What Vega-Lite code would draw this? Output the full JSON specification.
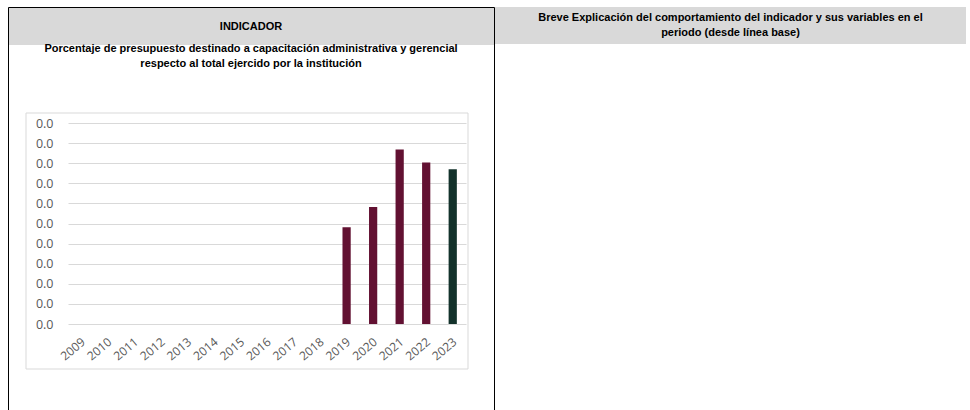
{
  "$schema": "https://vega.github.io/schema/vega-lite/v6.json",
  "background": "white",
  "padding": {"left": 7, "top": 6, "right": 0, "bottom": 0},
  "spacing": 0,
  "config": {"view": {"stroke": null}, "font": "Liberation Sans"},
  "hconcat": [
    {
      "width": 486,
      "height": 405,
      "view": {
        "stroke": "#000000",
        "fill": {
          "gradient": "linear",
          "x1": 0, "y1": 0, "x2": 0, "y2": 1,
          "stops": [
            {"offset": 0, "color": "#d9d9d9"},
            {"offset": 0.0914, "color": "#d9d9d9"},
            {"offset": 0.0914, "color": "#ffffff"},
            {"offset": 1, "color": "#ffffff"}
          ]
        }
      },
      "title": {
        "text": "INDICADOR",
        "subtitle": ["Porcentaje de presupuesto destinado a capacitación administrativa y gerencial", "respecto al total ejercido por la institución"],
        "font": "Liberation Sans",
        "fontSize": 11,
        "fontWeight": "bold",
        "color": "#000000",
        "subtitleFont": "Liberation Sans",
        "subtitleFontSize": 11,
        "subtitleFontWeight": "bold",
        "subtitleColor": "#000000",
        "subtitleLineHeight": 15,
        "subtitlePadding": 11,
        "anchor": "middle",
        "frame": "group",
        "offset": -62
      },
      "resolve": {"scale": {"x": "independent", "y": "independent"}},
      "layer": [
        {
          "data": {
            "values": [
              {"anio": 2009, "valor": 0, "tipo": "Histórico"},
              {"anio": 2010, "valor": 0, "tipo": "Histórico"},
              {"anio": 2011, "valor": 0, "tipo": "Histórico"},
              {"anio": 2012, "valor": 0, "tipo": "Histórico"},
              {"anio": 2013, "valor": 0, "tipo": "Histórico"},
              {"anio": 2014, "valor": 0, "tipo": "Histórico"},
              {"anio": 2015, "valor": 0, "tipo": "Histórico"},
              {"anio": 2016, "valor": 0, "tipo": "Histórico"},
              {"anio": 2017, "valor": 0, "tipo": "Histórico"},
              {"anio": 2018, "valor": 0, "tipo": "Histórico"},
              {"anio": 2019, "valor": 0.00481, "tipo": "Histórico"},
              {"anio": 2020, "valor": 0.00582, "tipo": "Histórico"},
              {"anio": 2021, "valor": 0.00868, "tipo": "Histórico"},
              {"anio": 2022, "valor": 0.00803, "tipo": "Histórico"},
              {"anio": 2023, "valor": 0.0077, "tipo": "Actual"}
            ]
          },
          "mark": {"type": "bar"},
          "encoding": {
            "x": {
              "field": "anio",
              "type": "ordinal",
              "scale": {"range": [60, 458], "paddingInner": 0.69, "paddingOuter": 0.345},
              "axis": {
                "title": null,
                "labelAngle": -40,
                "labelOffset": -1,
                "domain": false,
                "ticks": false,
                "tickSize": 0,
                "grid": false,
                "offset": -79,
                "labelPadding": 3,
                "labelFont": "Open Sans",
                "labelFontSize": 12,
                "labelColor": "#595959"
              }
            },
            "y": {
              "field": "valor",
              "type": "quantitative",
              "scale": {"domain": [0, 0.01], "range": [317, 116], "nice": false, "zero": true},
              "axis": {
                "title": null,
                "values": [0, 0.001, 0.002, 0.003, 0.004, 0.005, 0.006, 0.007, 0.008, 0.009, 0.01],
                "format": ".1f",
                "domain": false,
                "ticks": false,
                "tickSize": 0,
                "offset": -49,
                "labelPadding": 4,
                "labelFont": "Open Sans",
                "labelFontSize": 12.5,
                "labelColor": "#595959",
                "gridColor": "#d9d9d9",
                "gridWidth": 1
              }
            },
            "color": {
              "field": "tipo",
              "type": "nominal",
              "scale": {"domain": ["Histórico", "Actual"], "range": ["#621132", "#13322b"]},
              "legend": null
            }
          }
        },
        {
          "data": {"values": [{"elemento": "marco del gráfico"}]},
          "mark": {"type": "rect", "filled": false, "stroke": "#d9d9d9", "strokeWidth": 1},
          "encoding": {
            "x": {"datum": 0, "type": "quantitative", "scale": {"domain": [0, 1], "range": [18, 460]}, "axis": null},
            "x2": {"datum": 1},
            "y": {"datum": 0, "type": "quantitative", "scale": {"domain": [0, 1], "range": [106, 362]}, "axis": null},
            "y2": {"datum": 1}
          }
        }
      ]
    },
    {
      "width": 471,
      "height": 37,
      "view": {"fill": "#d9d9d9", "stroke": null},
      "data": {"values": [{"texto": ["Breve Explicación del comportamiento del indicador y sus variables en el", "periodo (desde línea base)"]}]},
      "mark": {"type": "text", "font": "Liberation Sans", "fontWeight": "bold", "fontSize": 11, "color": "#000000", "lineHeight": 15, "dy": -8},
      "encoding": {"text": {"field": "texto", "type": "nominal"}}
    }
  ]
}
